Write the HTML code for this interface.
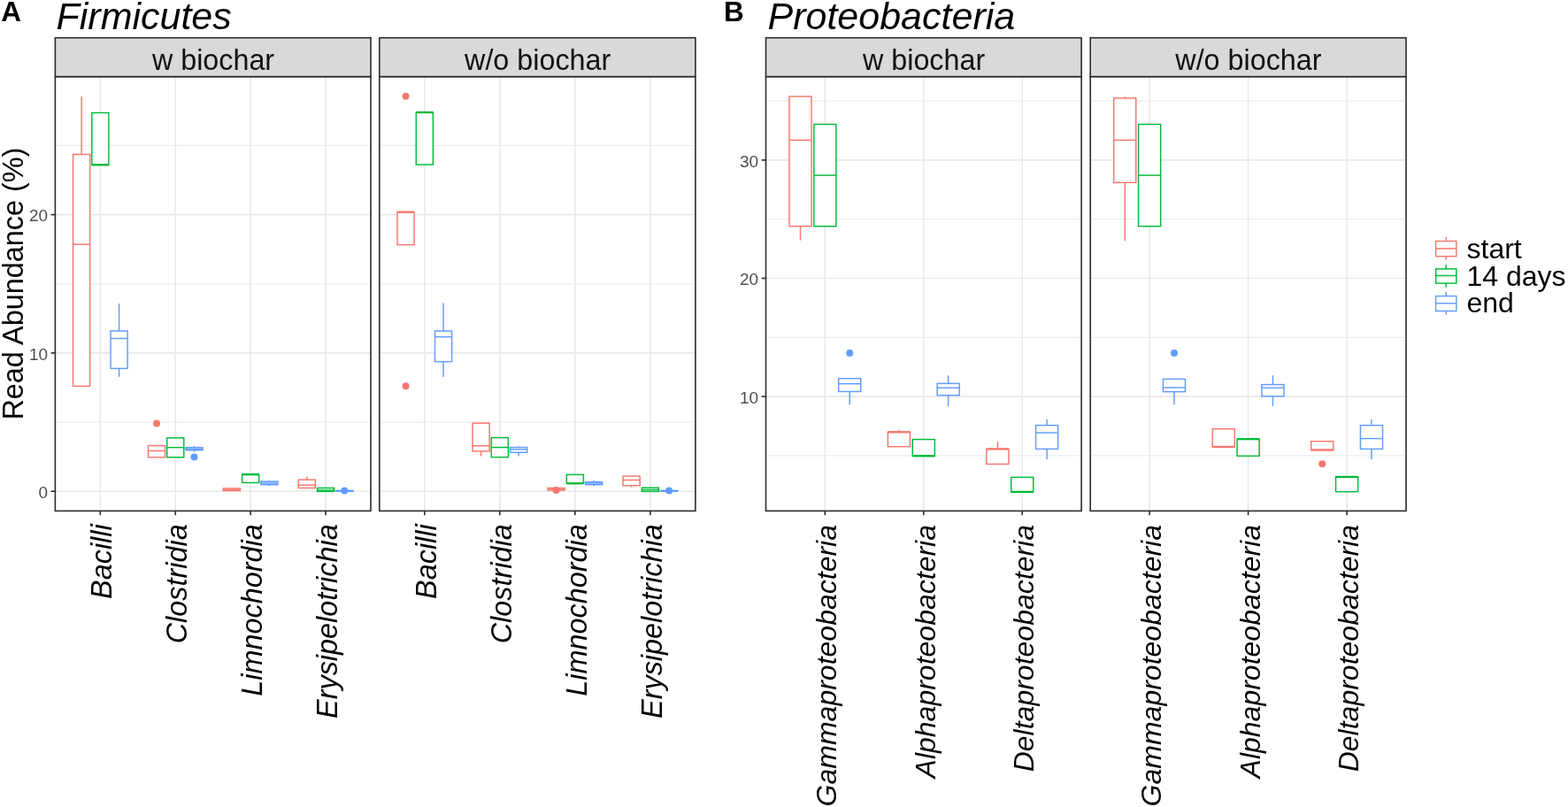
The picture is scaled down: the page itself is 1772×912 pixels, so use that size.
<!DOCTYPE html>
<html><head><meta charset="utf-8"><title>Firmicutes and Proteobacteria read abundance</title>
<style>
html,body{margin:0;padding:0;background:#fff;}
body{width:1772px;height:912px;overflow:hidden;}
svg{display:block;font-family:"Liberation Sans",Arial,Helvetica,sans-serif;}
</style></head>
<body>
<svg width="1772" height="912" viewBox="0 0 1772 912">
<rect width="1772" height="912" fill="#fff"/>
<rect x="62.4" y="86.6" width="356.6" height="490.8" fill="#fff"/>
<line x1="62.4" x2="419" y1="477.05" y2="477.05" stroke="#E9E9E9" stroke-width="1.0"/>
<line x1="62.4" x2="419" y1="320.75" y2="320.75" stroke="#E9E9E9" stroke-width="1.0"/>
<line x1="62.4" x2="419" y1="164.45" y2="164.45" stroke="#E9E9E9" stroke-width="1.0"/>
<line x1="62.4" x2="419" y1="555.2" y2="555.2" stroke="#E9E9E9" stroke-width="1.6"/>
<line x1="62.4" x2="419" y1="398.9" y2="398.9" stroke="#E9E9E9" stroke-width="1.6"/>
<line x1="62.4" x2="419" y1="242.6" y2="242.6" stroke="#E9E9E9" stroke-width="1.6"/>
<line x1="113.34" x2="113.34" y1="86.6" y2="577.4" stroke="#E9E9E9" stroke-width="1.6"/>
<line x1="198.25" x2="198.25" y1="86.6" y2="577.4" stroke="#E9E9E9" stroke-width="1.6"/>
<line x1="283.15" x2="283.15" y1="86.6" y2="577.4" stroke="#E9E9E9" stroke-width="1.6"/>
<line x1="368.06" x2="368.06" y1="86.6" y2="577.4" stroke="#E9E9E9" stroke-width="1.6"/>
<line x1="92.12" x2="92.12" y1="109" y2="174.5" stroke="#F8766D" stroke-width="1.45"/>
<rect x="82.56" y="174.5" width="19.1" height="261.9" fill="#fff" stroke="#F8766D" stroke-width="1.45"/>
<line x1="82.56" x2="101.67" y1="276.2" y2="276.2" stroke="#F8766D" stroke-width="1.45"/>
<rect x="103.79" y="127.5" width="19.1" height="58.8" fill="#fff" stroke="#00BA38" stroke-width="1.45"/>
<line x1="103.79" x2="122.89" y1="186.3" y2="186.3" stroke="#00BA38" stroke-width="2.3"/>
<line x1="134.57" x2="134.57" y1="343" y2="374" stroke="#619CFF" stroke-width="1.45"/>
<line x1="134.57" x2="134.57" y1="416.4" y2="425.9" stroke="#619CFF" stroke-width="1.45"/>
<rect x="125.02" y="374" width="19.1" height="42.4" fill="#fff" stroke="#619CFF" stroke-width="1.45"/>
<line x1="125.02" x2="144.12" y1="382.5" y2="382.5" stroke="#619CFF" stroke-width="1.45"/>
<rect x="167.47" y="503.6" width="19.1" height="13.2" fill="#fff" stroke="#F8766D" stroke-width="1.45"/>
<line x1="167.47" x2="186.57" y1="509.5" y2="509.5" stroke="#F8766D" stroke-width="1.45"/>
<circle cx="177.02" cy="478.4" r="4.0" fill="#F8766D"/>
<rect x="188.7" y="494.9" width="19.1" height="21.9" fill="#fff" stroke="#00BA38" stroke-width="1.45"/>
<line x1="188.7" x2="207.8" y1="505.7" y2="505.7" stroke="#00BA38" stroke-width="1.45"/>
<line x1="219.47" x2="219.47" y1="504.1" y2="505.7" stroke="#619CFF" stroke-width="1.45"/>
<line x1="219.47" x2="219.47" y1="508.7" y2="510.7" stroke="#619CFF" stroke-width="1.45"/>
<rect x="209.92" y="505.7" width="19.1" height="3" fill="#fff" stroke="#619CFF" stroke-width="1.45"/>
<line x1="209.92" x2="229.03" y1="507.2" y2="507.2" stroke="#619CFF" stroke-width="1.45"/>
<circle cx="219.47" cy="516.4" r="4.0" fill="#619CFF"/>
<rect x="252.37" y="552" width="19.1" height="2.5" fill="#fff" stroke="#F8766D" stroke-width="1.45"/>
<line x1="252.37" x2="271.48" y1="553.2" y2="553.2" stroke="#F8766D" stroke-width="1.45"/>
<rect x="273.6" y="536.2" width="19.1" height="9.3" fill="#fff" stroke="#00BA38" stroke-width="1.45"/>
<line x1="273.6" x2="292.7" y1="536.2" y2="536.2" stroke="#00BA38" stroke-width="2.3"/>
<line x1="304.38" x2="304.38" y1="543" y2="544.1" stroke="#619CFF" stroke-width="1.45"/>
<line x1="304.38" x2="304.38" y1="547.7" y2="549.3" stroke="#619CFF" stroke-width="1.45"/>
<rect x="294.83" y="544.1" width="19.1" height="3.6" fill="#fff" stroke="#619CFF" stroke-width="1.45"/>
<line x1="294.83" x2="313.93" y1="546" y2="546" stroke="#619CFF" stroke-width="1.45"/>
<line x1="346.83" x2="346.83" y1="538.6" y2="542.2" stroke="#F8766D" stroke-width="1.45"/>
<rect x="337.28" y="542.2" width="19.1" height="9.3" fill="#fff" stroke="#F8766D" stroke-width="1.45"/>
<line x1="337.28" x2="356.38" y1="548.2" y2="548.2" stroke="#F8766D" stroke-width="1.45"/>
<rect x="358.51" y="551.5" width="19.1" height="3.9" fill="#fff" stroke="#00BA38" stroke-width="1.45"/>
<line x1="358.51" x2="377.61" y1="554" y2="554" stroke="#00BA38" stroke-width="1.45"/>
<rect x="379.73" y="554.4" width="19.1" height="0.8" fill="#fff" stroke="#619CFF" stroke-width="1.45"/>
<line x1="379.73" x2="398.84" y1="555" y2="555" stroke="#619CFF" stroke-width="1.45"/>
<circle cx="389.28" cy="554.6" r="4.0" fill="#619CFF"/>
<rect x="62.4" y="86.6" width="356.6" height="490.8" fill="none" stroke="#2B2B2B" stroke-width="1.6"/>
<rect x="62.4" y="42.7" width="356.6" height="43.9" fill="#D9D9D9" stroke="#2B2B2B" stroke-width="1.6"/>
<text x="241" y="78.7" font-size="32.3" text-anchor="middle" fill="#111">w biochar</text>
<line x1="113.34" x2="113.34" y1="577.4" y2="582.1999999999999" stroke="#2B2B2B" stroke-width="1.6"/>
<text transform="translate(126.34,592.3) rotate(-90)" font-size="32.4" font-style="italic" text-anchor="end" fill="#000">Bacilli</text>
<line x1="198.25" x2="198.25" y1="577.4" y2="582.1999999999999" stroke="#2B2B2B" stroke-width="1.6"/>
<text transform="translate(211.25,592.3) rotate(-90)" font-size="32.4" font-style="italic" text-anchor="end" fill="#000">Clostridia</text>
<line x1="283.15" x2="283.15" y1="577.4" y2="582.1999999999999" stroke="#2B2B2B" stroke-width="1.6"/>
<text transform="translate(296.15,592.3) rotate(-90)" font-size="32.4" font-style="italic" text-anchor="end" fill="#000">Limnochordia</text>
<line x1="368.06" x2="368.06" y1="577.4" y2="582.1999999999999" stroke="#2B2B2B" stroke-width="1.6"/>
<text transform="translate(381.06,592.3) rotate(-90)" font-size="32.4" font-style="italic" text-anchor="end" fill="#000">Erysipelotrichia</text>
<rect x="428.8" y="86.6" width="357.1" height="490.8" fill="#fff"/>
<line x1="428.8" x2="785.9" y1="477.05" y2="477.05" stroke="#E9E9E9" stroke-width="1.0"/>
<line x1="428.8" x2="785.9" y1="320.75" y2="320.75" stroke="#E9E9E9" stroke-width="1.0"/>
<line x1="428.8" x2="785.9" y1="164.45" y2="164.45" stroke="#E9E9E9" stroke-width="1.0"/>
<line x1="428.8" x2="785.9" y1="555.2" y2="555.2" stroke="#E9E9E9" stroke-width="1.6"/>
<line x1="428.8" x2="785.9" y1="398.9" y2="398.9" stroke="#E9E9E9" stroke-width="1.6"/>
<line x1="428.8" x2="785.9" y1="242.6" y2="242.6" stroke="#E9E9E9" stroke-width="1.6"/>
<line x1="479.81" x2="479.81" y1="86.6" y2="577.4" stroke="#E9E9E9" stroke-width="1.6"/>
<line x1="564.84" x2="564.84" y1="86.6" y2="577.4" stroke="#E9E9E9" stroke-width="1.6"/>
<line x1="649.86" x2="649.86" y1="86.6" y2="577.4" stroke="#E9E9E9" stroke-width="1.6"/>
<line x1="734.89" x2="734.89" y1="86.6" y2="577.4" stroke="#E9E9E9" stroke-width="1.6"/>
<rect x="448.99" y="239.7" width="19.13" height="36.9" fill="#fff" stroke="#F8766D" stroke-width="1.45"/>
<line x1="448.99" x2="468.12" y1="239.7" y2="239.7" stroke="#F8766D" stroke-width="2.3"/>
<circle cx="458.56" cy="108.7" r="4.0" fill="#F8766D"/>
<circle cx="458.56" cy="436.3" r="4.0" fill="#F8766D"/>
<rect x="470.25" y="127" width="19.13" height="59" fill="#fff" stroke="#00BA38" stroke-width="1.45"/>
<line x1="470.25" x2="489.38" y1="127" y2="127" stroke="#00BA38" stroke-width="2.3"/>
<line x1="501.07" x2="501.07" y1="342.5" y2="374.1" stroke="#619CFF" stroke-width="1.45"/>
<line x1="501.07" x2="501.07" y1="408.7" y2="426" stroke="#619CFF" stroke-width="1.45"/>
<rect x="491.51" y="374.1" width="19.13" height="34.6" fill="#fff" stroke="#619CFF" stroke-width="1.45"/>
<line x1="491.51" x2="510.64" y1="380.7" y2="380.7" stroke="#619CFF" stroke-width="1.45"/>
<line x1="543.58" x2="543.58" y1="509.9" y2="515.6" stroke="#F8766D" stroke-width="1.45"/>
<rect x="534.02" y="478.2" width="19.13" height="31.7" fill="#fff" stroke="#F8766D" stroke-width="1.45"/>
<line x1="534.02" x2="553.15" y1="503.8" y2="503.8" stroke="#F8766D" stroke-width="1.45"/>
<rect x="555.27" y="494.6" width="19.13" height="22.1" fill="#fff" stroke="#00BA38" stroke-width="1.45"/>
<line x1="555.27" x2="574.4" y1="505.6" y2="505.6" stroke="#00BA38" stroke-width="1.45"/>
<line x1="586.09" x2="586.09" y1="504.2" y2="505.6" stroke="#619CFF" stroke-width="1.45"/>
<line x1="586.09" x2="586.09" y1="511.3" y2="515.6" stroke="#619CFF" stroke-width="1.45"/>
<rect x="576.53" y="505.6" width="19.13" height="5.7" fill="#fff" stroke="#619CFF" stroke-width="1.45"/>
<line x1="576.53" x2="595.66" y1="507.8" y2="507.8" stroke="#619CFF" stroke-width="1.45"/>
<rect x="619.04" y="551.5" width="19.13" height="2.5" fill="#fff" stroke="#F8766D" stroke-width="1.45"/>
<line x1="619.04" x2="638.17" y1="553" y2="553" stroke="#F8766D" stroke-width="1.45"/>
<circle cx="628.61" cy="554" r="4.0" fill="#F8766D"/>
<rect x="640.3" y="536.4" width="19.13" height="9.9" fill="#fff" stroke="#00BA38" stroke-width="1.45"/>
<line x1="640.3" x2="659.43" y1="546.3" y2="546.3" stroke="#00BA38" stroke-width="2.3"/>
<line x1="671.12" x2="671.12" y1="542.8" y2="544.7" stroke="#619CFF" stroke-width="1.45"/>
<line x1="671.12" x2="671.12" y1="547.7" y2="549.3" stroke="#619CFF" stroke-width="1.45"/>
<rect x="661.55" y="544.7" width="19.13" height="3" fill="#fff" stroke="#619CFF" stroke-width="1.45"/>
<line x1="661.55" x2="680.68" y1="546" y2="546" stroke="#619CFF" stroke-width="1.45"/>
<line x1="713.63" x2="713.63" y1="548.8" y2="550.7" stroke="#F8766D" stroke-width="1.45"/>
<rect x="704.06" y="538.1" width="19.13" height="10.7" fill="#fff" stroke="#F8766D" stroke-width="1.45"/>
<line x1="704.06" x2="723.19" y1="542.5" y2="542.5" stroke="#F8766D" stroke-width="1.45"/>
<rect x="725.32" y="551.25" width="19.13" height="4.15" fill="#fff" stroke="#00BA38" stroke-width="1.45"/>
<line x1="725.32" x2="744.45" y1="553.5" y2="553.5" stroke="#00BA38" stroke-width="1.45"/>
<rect x="746.58" y="554.4" width="19.13" height="0.8" fill="#fff" stroke="#619CFF" stroke-width="1.45"/>
<line x1="746.58" x2="765.71" y1="555" y2="555" stroke="#619CFF" stroke-width="1.45"/>
<circle cx="756.14" cy="554.6" r="4.0" fill="#619CFF"/>
<rect x="428.8" y="86.6" width="357.1" height="490.8" fill="none" stroke="#2B2B2B" stroke-width="1.6"/>
<rect x="428.8" y="42.7" width="357.1" height="43.9" fill="#D9D9D9" stroke="#2B2B2B" stroke-width="1.6"/>
<text x="607.65" y="78.7" font-size="32.3" text-anchor="middle" fill="#111">w/o biochar</text>
<line x1="479.81" x2="479.81" y1="577.4" y2="582.1999999999999" stroke="#2B2B2B" stroke-width="1.6"/>
<text transform="translate(492.81,592.3) rotate(-90)" font-size="32.4" font-style="italic" text-anchor="end" fill="#000">Bacilli</text>
<line x1="564.84" x2="564.84" y1="577.4" y2="582.1999999999999" stroke="#2B2B2B" stroke-width="1.6"/>
<text transform="translate(577.84,592.3) rotate(-90)" font-size="32.4" font-style="italic" text-anchor="end" fill="#000">Clostridia</text>
<line x1="649.86" x2="649.86" y1="577.4" y2="582.1999999999999" stroke="#2B2B2B" stroke-width="1.6"/>
<text transform="translate(662.86,592.3) rotate(-90)" font-size="32.4" font-style="italic" text-anchor="end" fill="#000">Limnochordia</text>
<line x1="734.89" x2="734.89" y1="577.4" y2="582.1999999999999" stroke="#2B2B2B" stroke-width="1.6"/>
<text transform="translate(747.89,592.3) rotate(-90)" font-size="32.4" font-style="italic" text-anchor="end" fill="#000">Erysipelotrichia</text>
<rect x="865.5" y="86.6" width="356.6" height="490.8" fill="#fff"/>
<line x1="865.5" x2="1222.1" y1="514.9" y2="514.9" stroke="#E9E9E9" stroke-width="1.0"/>
<line x1="865.5" x2="1222.1" y1="381.3" y2="381.3" stroke="#E9E9E9" stroke-width="1.0"/>
<line x1="865.5" x2="1222.1" y1="247.7" y2="247.7" stroke="#E9E9E9" stroke-width="1.0"/>
<line x1="865.5" x2="1222.1" y1="114.1" y2="114.1" stroke="#E9E9E9" stroke-width="1.0"/>
<line x1="865.5" x2="1222.1" y1="448.1" y2="448.1" stroke="#E9E9E9" stroke-width="1.6"/>
<line x1="865.5" x2="1222.1" y1="314.5" y2="314.5" stroke="#E9E9E9" stroke-width="1.6"/>
<line x1="865.5" x2="1222.1" y1="180.9" y2="180.9" stroke="#E9E9E9" stroke-width="1.6"/>
<line x1="932.36" x2="932.36" y1="86.6" y2="577.4" stroke="#E9E9E9" stroke-width="1.6"/>
<line x1="1043.8" x2="1043.8" y1="86.6" y2="577.4" stroke="#E9E9E9" stroke-width="1.6"/>
<line x1="1155.24" x2="1155.24" y1="86.6" y2="577.4" stroke="#E9E9E9" stroke-width="1.6"/>
<line x1="904.5" x2="904.5" y1="255.7" y2="271.6" stroke="#F8766D" stroke-width="1.45"/>
<rect x="891.97" y="109" width="25.07" height="146.7" fill="#fff" stroke="#F8766D" stroke-width="1.45"/>
<line x1="891.97" x2="917.04" y1="158.4" y2="158.4" stroke="#F8766D" stroke-width="1.45"/>
<rect x="919.83" y="140.5" width="25.07" height="115.2" fill="#fff" stroke="#00BA38" stroke-width="1.45"/>
<line x1="919.83" x2="944.9" y1="198.1" y2="198.1" stroke="#00BA38" stroke-width="1.45"/>
<line x1="960.22" x2="960.22" y1="442.5" y2="457.4" stroke="#619CFF" stroke-width="1.45"/>
<rect x="947.69" y="427.7" width="25.07" height="14.8" fill="#fff" stroke="#619CFF" stroke-width="1.45"/>
<line x1="947.69" x2="972.76" y1="433.7" y2="433.7" stroke="#619CFF" stroke-width="1.45"/>
<circle cx="960.22" cy="399" r="4.0" fill="#619CFF"/>
<line x1="1015.94" x2="1015.94" y1="485.7" y2="488.3" stroke="#F8766D" stroke-width="1.45"/>
<rect x="1003.4" y="488.3" width="25.07" height="16.4" fill="#fff" stroke="#F8766D" stroke-width="1.45"/>
<line x1="1003.4" x2="1028.48" y1="488.3" y2="488.3" stroke="#F8766D" stroke-width="2.3"/>
<rect x="1031.26" y="496.6" width="25.07" height="18.7" fill="#fff" stroke="#00BA38" stroke-width="1.45"/>
<line x1="1031.26" x2="1056.34" y1="515.3" y2="515.3" stroke="#00BA38" stroke-width="2.3"/>
<line x1="1071.66" x2="1071.66" y1="424.2" y2="433.4" stroke="#619CFF" stroke-width="1.45"/>
<line x1="1071.66" x2="1071.66" y1="446.8" y2="459" stroke="#619CFF" stroke-width="1.45"/>
<rect x="1059.12" y="433.4" width="25.07" height="13.4" fill="#fff" stroke="#619CFF" stroke-width="1.45"/>
<line x1="1059.12" x2="1084.2" y1="438.3" y2="438.3" stroke="#619CFF" stroke-width="1.45"/>
<line x1="1127.38" x2="1127.38" y1="499.2" y2="507.4" stroke="#F8766D" stroke-width="1.45"/>
<rect x="1114.84" y="507.4" width="25.07" height="17.1" fill="#fff" stroke="#F8766D" stroke-width="1.45"/>
<line x1="1114.84" x2="1139.91" y1="507.4" y2="507.4" stroke="#F8766D" stroke-width="2.3"/>
<rect x="1142.7" y="539.4" width="25.07" height="16.5" fill="#fff" stroke="#00BA38" stroke-width="1.45"/>
<line x1="1142.7" x2="1167.77" y1="555.9" y2="555.9" stroke="#00BA38" stroke-width="2.3"/>
<line x1="1183.1" x2="1183.1" y1="473.9" y2="480.7" stroke="#619CFF" stroke-width="1.45"/>
<line x1="1183.1" x2="1183.1" y1="507.4" y2="519.1" stroke="#619CFF" stroke-width="1.45"/>
<rect x="1170.56" y="480.7" width="25.07" height="26.7" fill="#fff" stroke="#619CFF" stroke-width="1.45"/>
<line x1="1170.56" x2="1195.63" y1="489" y2="489" stroke="#619CFF" stroke-width="1.45"/>
<rect x="865.5" y="86.6" width="356.6" height="490.8" fill="none" stroke="#2B2B2B" stroke-width="1.6"/>
<rect x="865.5" y="42.7" width="356.6" height="43.9" fill="#D9D9D9" stroke="#2B2B2B" stroke-width="1.6"/>
<text x="1044.1" y="78.7" font-size="32.3" text-anchor="middle" fill="#111">w biochar</text>
<line x1="932.36" x2="932.36" y1="577.4" y2="582.1999999999999" stroke="#2B2B2B" stroke-width="1.6"/>
<text transform="translate(945.36,593) rotate(-90)" font-size="32" font-style="italic" text-anchor="end" fill="#000">Gammaproteobacteria</text>
<line x1="1043.8" x2="1043.8" y1="577.4" y2="582.1999999999999" stroke="#2B2B2B" stroke-width="1.6"/>
<text transform="translate(1056.8,593) rotate(-90)" font-size="32" font-style="italic" text-anchor="end" fill="#000">Alphaproteobacteria</text>
<line x1="1155.24" x2="1155.24" y1="577.4" y2="582.1999999999999" stroke="#2B2B2B" stroke-width="1.6"/>
<text transform="translate(1168.24,593) rotate(-90)" font-size="32" font-style="italic" text-anchor="end" fill="#000">Deltaproteobacteria</text>
<rect x="1232.2" y="86.6" width="356.8" height="490.8" fill="#fff"/>
<line x1="1232.2" x2="1589" y1="514.9" y2="514.9" stroke="#E9E9E9" stroke-width="1.0"/>
<line x1="1232.2" x2="1589" y1="381.3" y2="381.3" stroke="#E9E9E9" stroke-width="1.0"/>
<line x1="1232.2" x2="1589" y1="247.7" y2="247.7" stroke="#E9E9E9" stroke-width="1.0"/>
<line x1="1232.2" x2="1589" y1="114.1" y2="114.1" stroke="#E9E9E9" stroke-width="1.0"/>
<line x1="1232.2" x2="1589" y1="448.1" y2="448.1" stroke="#E9E9E9" stroke-width="1.6"/>
<line x1="1232.2" x2="1589" y1="314.5" y2="314.5" stroke="#E9E9E9" stroke-width="1.6"/>
<line x1="1232.2" x2="1589" y1="180.9" y2="180.9" stroke="#E9E9E9" stroke-width="1.6"/>
<line x1="1299.1" x2="1299.1" y1="86.6" y2="577.4" stroke="#E9E9E9" stroke-width="1.6"/>
<line x1="1410.6" x2="1410.6" y1="86.6" y2="577.4" stroke="#E9E9E9" stroke-width="1.6"/>
<line x1="1522.1" x2="1522.1" y1="86.6" y2="577.4" stroke="#E9E9E9" stroke-width="1.6"/>
<line x1="1271.23" x2="1271.23" y1="109.3" y2="110.9" stroke="#F8766D" stroke-width="1.45"/>
<line x1="1271.23" x2="1271.23" y1="206.3" y2="271.9" stroke="#F8766D" stroke-width="1.45"/>
<rect x="1258.68" y="110.9" width="25.09" height="95.4" fill="#fff" stroke="#F8766D" stroke-width="1.45"/>
<line x1="1258.68" x2="1283.77" y1="158.4" y2="158.4" stroke="#F8766D" stroke-width="1.45"/>
<rect x="1286.56" y="140.5" width="25.09" height="115.2" fill="#fff" stroke="#00BA38" stroke-width="1.45"/>
<line x1="1286.56" x2="1311.64" y1="198.1" y2="198.1" stroke="#00BA38" stroke-width="1.45"/>
<line x1="1326.98" x2="1326.98" y1="427.8" y2="428.4" stroke="#619CFF" stroke-width="1.45"/>
<line x1="1326.98" x2="1326.98" y1="442.7" y2="457.4" stroke="#619CFF" stroke-width="1.45"/>
<rect x="1314.43" y="428.4" width="25.09" height="14.3" fill="#fff" stroke="#619CFF" stroke-width="1.45"/>
<line x1="1314.43" x2="1339.52" y1="438.1" y2="438.1" stroke="#619CFF" stroke-width="1.45"/>
<circle cx="1326.98" cy="399" r="4.0" fill="#619CFF"/>
<rect x="1370.18" y="484.7" width="25.09" height="20.3" fill="#fff" stroke="#F8766D" stroke-width="1.45"/>
<line x1="1370.18" x2="1395.27" y1="505" y2="505" stroke="#F8766D" stroke-width="2.3"/>
<rect x="1398.06" y="496.2" width="25.09" height="19.1" fill="#fff" stroke="#00BA38" stroke-width="1.45"/>
<line x1="1398.06" x2="1423.14" y1="496.2" y2="496.2" stroke="#00BA38" stroke-width="2.3"/>
<line x1="1438.47" x2="1438.47" y1="424.2" y2="434.6" stroke="#619CFF" stroke-width="1.45"/>
<line x1="1438.47" x2="1438.47" y1="447.9" y2="459" stroke="#619CFF" stroke-width="1.45"/>
<rect x="1425.93" y="434.6" width="25.09" height="13.3" fill="#fff" stroke="#619CFF" stroke-width="1.45"/>
<line x1="1425.93" x2="1451.02" y1="438.3" y2="438.3" stroke="#619CFF" stroke-width="1.45"/>
<rect x="1481.68" y="498.8" width="25.09" height="9.7" fill="#fff" stroke="#F8766D" stroke-width="1.45"/>
<line x1="1481.68" x2="1506.77" y1="508.5" y2="508.5" stroke="#F8766D" stroke-width="2.3"/>
<circle cx="1494.22" cy="524.2" r="4.0" fill="#F8766D"/>
<rect x="1509.56" y="539" width="25.09" height="16.7" fill="#fff" stroke="#00BA38" stroke-width="1.45"/>
<line x1="1509.56" x2="1534.64" y1="539" y2="539" stroke="#00BA38" stroke-width="2.3"/>
<line x1="1549.97" x2="1549.97" y1="473.9" y2="480.7" stroke="#619CFF" stroke-width="1.45"/>
<line x1="1549.97" x2="1549.97" y1="507.4" y2="519.1" stroke="#619CFF" stroke-width="1.45"/>
<rect x="1537.43" y="480.7" width="25.09" height="26.7" fill="#fff" stroke="#619CFF" stroke-width="1.45"/>
<line x1="1537.43" x2="1562.52" y1="495.6" y2="495.6" stroke="#619CFF" stroke-width="1.45"/>
<rect x="1232.2" y="86.6" width="356.8" height="490.8" fill="none" stroke="#2B2B2B" stroke-width="1.6"/>
<rect x="1232.2" y="42.7" width="356.8" height="43.9" fill="#D9D9D9" stroke="#2B2B2B" stroke-width="1.6"/>
<text x="1410.9" y="78.7" font-size="32.3" text-anchor="middle" fill="#111">w/o biochar</text>
<line x1="1299.1" x2="1299.1" y1="577.4" y2="582.1999999999999" stroke="#2B2B2B" stroke-width="1.6"/>
<text transform="translate(1312.1,593) rotate(-90)" font-size="32" font-style="italic" text-anchor="end" fill="#000">Gammaproteobacteria</text>
<line x1="1410.6" x2="1410.6" y1="577.4" y2="582.1999999999999" stroke="#2B2B2B" stroke-width="1.6"/>
<text transform="translate(1423.6,593) rotate(-90)" font-size="32" font-style="italic" text-anchor="end" fill="#000">Alphaproteobacteria</text>
<line x1="1522.1" x2="1522.1" y1="577.4" y2="582.1999999999999" stroke="#2B2B2B" stroke-width="1.6"/>
<text transform="translate(1535.1,593) rotate(-90)" font-size="32" font-style="italic" text-anchor="end" fill="#000">Deltaproteobacteria</text>
<line x1="57.6" x2="62.4" y1="555.2" y2="555.2" stroke="#2B2B2B" stroke-width="1.6"/>
<text x="54.1" y="562.9" font-size="19" text-anchor="end" fill="#4D4D4D">0</text>
<line x1="57.6" x2="62.4" y1="398.9" y2="398.9" stroke="#2B2B2B" stroke-width="1.6"/>
<text x="54.1" y="406.6" font-size="19" text-anchor="end" fill="#4D4D4D">10</text>
<line x1="57.6" x2="62.4" y1="242.6" y2="242.6" stroke="#2B2B2B" stroke-width="1.6"/>
<text x="54.1" y="250.3" font-size="19" text-anchor="end" fill="#4D4D4D">20</text>
<line x1="860.7" x2="865.5" y1="448.1" y2="448.1" stroke="#2B2B2B" stroke-width="1.6"/>
<text x="857.2" y="455.8" font-size="19" text-anchor="end" fill="#4D4D4D">10</text>
<line x1="860.7" x2="865.5" y1="314.5" y2="314.5" stroke="#2B2B2B" stroke-width="1.6"/>
<text x="857.2" y="322.2" font-size="19" text-anchor="end" fill="#4D4D4D">20</text>
<line x1="860.7" x2="865.5" y1="180.9" y2="180.9" stroke="#2B2B2B" stroke-width="1.6"/>
<text x="857.2" y="188.6" font-size="19" text-anchor="end" fill="#4D4D4D">30</text>
<text x="1.3" y="23.8" font-size="31.5" font-weight="bold" fill="#000">A</text>
<text x="63.5" y="33.3" font-size="43" font-style="italic" fill="#000">Firmicutes</text>
<text x="818" y="23.8" font-size="31.5" font-weight="bold" fill="#000">B</text>
<text x="867.5" y="33.3" font-size="43" font-style="italic" fill="#000">Proteobacteria</text>
<text transform="translate(26.3,474.6) rotate(-90)" font-size="32.4" fill="#000">Read Abundance (%)</text>
<line x1="1634.2" x2="1634.2" y1="267.7" y2="293.8" stroke="#F8766D" stroke-width="1.45"/>
<rect x="1622.6000000000001" y="272.5" width="23.2" height="17.2" fill="#fff" stroke="#F8766D" stroke-width="1.45"/>
<line x1="1622.6000000000001" x2="1645.8" y1="280.9" y2="280.9" stroke="#F8766D" stroke-width="1.45"/>
<text x="1657.5" y="291.8" font-size="32" fill="#000">start</text>
<line x1="1634.2" x2="1634.2" y1="299" y2="324.7" stroke="#00BA38" stroke-width="1.45"/>
<rect x="1622.6000000000001" y="303.9" width="23.2" height="16.2" fill="#fff" stroke="#00BA38" stroke-width="1.45"/>
<line x1="1622.6000000000001" x2="1645.8" y1="311.5" y2="311.5" stroke="#00BA38" stroke-width="1.45"/>
<text x="1657.5" y="322.6" font-size="32" fill="#000">14 days</text>
<line x1="1634.2" x2="1634.2" y1="329.8" y2="355.7" stroke="#619CFF" stroke-width="1.45"/>
<rect x="1622.6000000000001" y="334.6" width="23.2" height="16.9" fill="#fff" stroke="#619CFF" stroke-width="1.45"/>
<line x1="1622.6000000000001" x2="1645.8" y1="342.8" y2="342.8" stroke="#619CFF" stroke-width="1.45"/>
<text x="1657.5" y="353.3" font-size="32" fill="#000">end</text>
</svg>
</body></html>
